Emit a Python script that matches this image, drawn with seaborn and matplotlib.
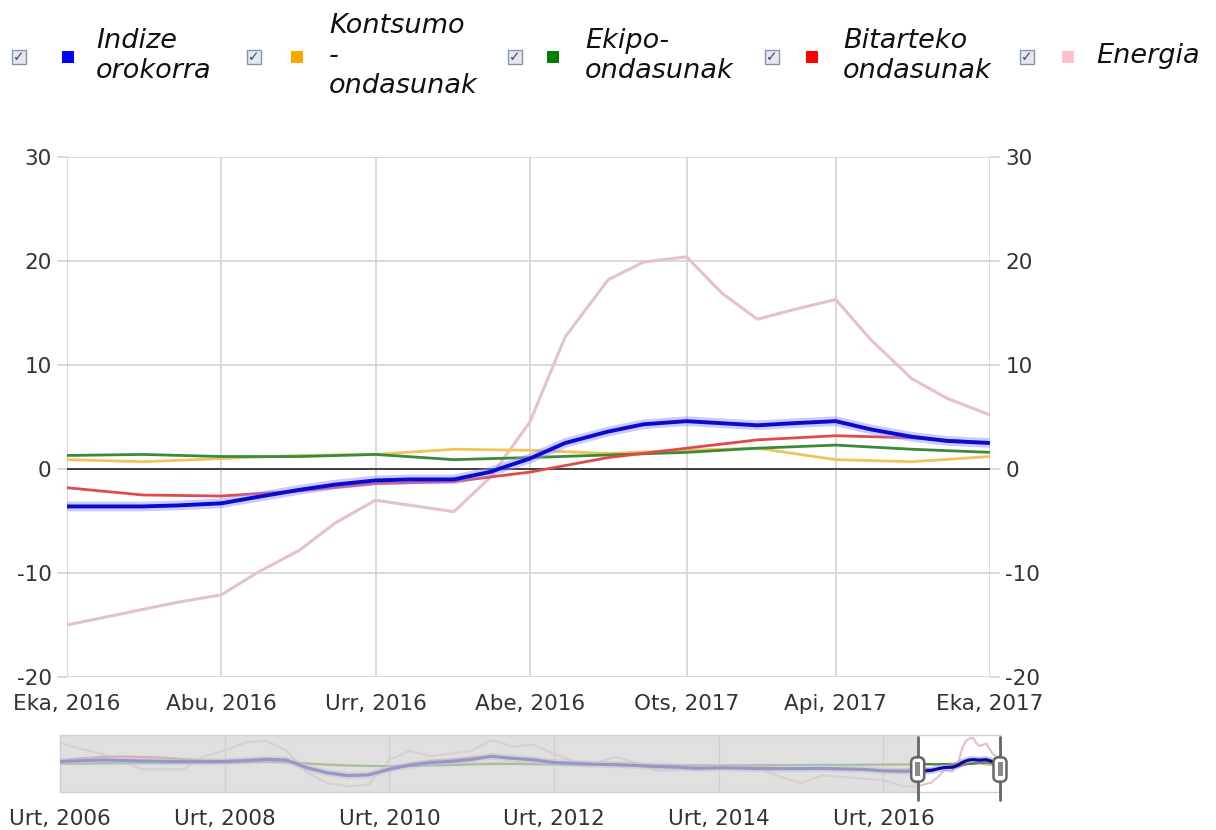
import numpy as np
import pandas as pd
import matplotlib
matplotlib.use("Agg")
import matplotlib.pyplot as plt
import matplotlib.dates as mdates
from matplotlib.patches import Rectangle, FancyBboxPatch
import seaborn as sns

# ---------------- data ----------------
months = pd.date_range("2016-06-01", "2017-06-01", freq="MS")
kontsumo = [0.9, 0.7, 1.0, 1.3, 1.4, 1.9, 1.8, 1.5, 1.8, 2.0, 0.9, 0.7, 1.2]
ekipo = [1.3, 1.4, 1.2, 1.2, 1.4, 0.9, 1.1, 1.35, 1.6, 2.0, 2.3, 1.9, 1.6]
bitarteko = [-1.8, -2.5, -2.6, -2.1, -1.4, -1.2, -0.3, 1.1, 2.0, 2.8, 3.2, 3.0, 2.5]

# twice-monthly readings (1st and 15th) for the two most curved series
semi = pd.date_range("2016-06-01", "2017-06-01", freq="SMS")
indize = [-3.6, -3.6, -3.6, -3.5, -3.3, -2.7, -2.0, -1.5, -1.1, -1.0, -1.0, -0.3, 1.0,
          2.5, 3.6, 4.3, 4.6, 4.4, 4.2, 4.4, 4.6, 3.8, 3.1, 2.7, 2.5]
energia = [-15.0, -14.3, -13.5, -12.8, -12.1, -10.0, -7.8, -5.2, -3.0, -3.5, -4.1, -0.9, 4.5,
           12.7, 18.2, 19.9, 20.4, 16.9, 14.4, 15.3, 16.3, 12.4, 8.7, 6.8, 5.2]

month_labels = ["Eka, 2016", "Abu, 2016", "Urr, 2016", "Abe, 2016",
                "Ots, 2017", "Api, 2017", "Eka, 2017"]
y_ticks = [-20, -10, 0, 10, 20, 30]

# navigator history (quarterly, Jan 2006 - Apr 2016)
hist_dates = pd.date_range("2006-01-01", "2016-04-01", freq="3MS")
hist_indize = [3.2, 3.8, 4.3, 4.0, 3.6, 3.4, 3.2, 3.1, 3.2, 3.8, 4.7, 4.3,
               -1.4, -5.0, -7.0, -6.5, -2.4, 0.5, 2.4, 3.2, 4.7, 7.0, 5.5, 4.5,
               2.5, 1.8, 1.2, 0.9, 0.3, -0.5, -0.9, -1.8, -1.4, -1.6, -2.0, -2.0,
               -2.0, -1.8, -2.2, -2.5, -3.6, -4.0]
hist_energia = [16.7, 12.5, 9.0, 3.0, -2.4, -2.4, -2.4, 7.0, 11.1, 17.0, 18.5, 11.0,
                -4.7, -12.6, -14.9, -13.8, 4.3, 11.1, 7.0, 9.0, 11.1, 18.9, 14.0, 15.5,
                8.8, 3.0, 2.0, 6.6, 2.0, -3.6, -3.0, -2.4, -1.4, -1.4, -1.8, -8.0,
                -12.6, -7.0, -8.0, -9.2, -10.4, -14.9]
hist_bitarteko = [3.5, 5.5, 6.5, 6.8, 6.5, 6.0, 5.0, 4.0, 3.8, 4.5, 5.5, 4.5,
                  -1.0, -5.5, -7.5, -6.5, -2.0, 1.5, 3.5, 4.5, 6.0, 7.0, 5.5, 4.0,
                  2.0, 1.5, 1.0, 0.8, 0.0, -0.8, -1.2, -1.5, -1.5, -1.2, -1.2, -1.5,
                  -1.8, -1.5, -2.0, -2.5, -3.0, -2.8]
hist_ekipo = [1.5, 1.6, 1.8, 1.9, 2.0, 2.0, 2.1, 2.2, 2.4, 2.6, 2.8, 2.6,
              1.8, 1.0, 0.4, 0.0, -0.2, -0.1, 0.2, 0.6, 1.0, 1.3, 1.4, 1.2,
              1.0, 0.8, 0.7, 0.6, 0.5, 0.4, 0.3, 0.3, 0.3, 0.4, 0.5, 0.6,
              0.7, 0.8, 0.8, 0.9, 1.0, 1.1]
hist_kontsumo = [2.0, 2.3, 2.5, 2.6, 2.5, 2.4, 2.6, 3.0, 3.5, 3.8, 3.6, 2.8,
                 1.5, 0.5, 0.0, -0.2, 0.0, 0.4, 0.8, 1.2, 1.8, 2.2, 2.4, 2.3,
                 2.0, 1.9, 1.8, 1.6, 1.2, 0.8, 0.6, 0.5, 0.4, 0.3, 0.3, 0.4,
                 0.5, 0.6, 0.6, 0.7, 0.8, 0.9]
nav_year_labels = ["Urt, 2006", "Urt, 2008", "Urt, 2010", "Urt, 2012",
                   "Urt, 2014", "Urt, 2016"]

series_names = ["Indize\norokorra", "Kontsumo\n-\nondasunak", "Ekipo-\nondasunak",
                "Bitarteko\nondasunak", "Energia"]
legend_colors = ["#0000ff", "#ffa500", "#008000", "#ff0000", "#ffc0cb"]
line_colors = {"indize": "#0a0ad0", "kontsumo": "#f0c45a", "ekipo": "#3a8a3a",
               "bitarteko": "#e24a4a", "energia": "#e6c2c8"}

# ---------------- figure ----------------
W, H = 1216, 830
sns.set_theme(style="white")
plt.rcParams["font.family"] = ["DejaVu Sans"]
plt.rcParams["axes.unicode_minus"] = False
fig = plt.figure(figsize=(W / 100, H / 100), dpi=100)


def fx(px):
    return px / W


def fy(py):
    return 1 - py / H


monthly_df = pd.DataFrame({"date": months, "kontsumo": kontsumo,
                           "ekipo": ekipo, "bitarteko": bitarteko})
semi_df = pd.DataFrame({"date": semi, "indize": indize, "energia": energia})

ax = fig.add_axes([fx(67), fy(677), fx(990) - fx(67), fy(157) - fy(677)])
grid_c = "#d3d3d3"
ax.set_xlim(months[0], months[-1])
ax.set_ylim(-20, 30)
ax.set_yticks(y_ticks)
ax.set_xticks(months[::2])
ax.set_xticklabels(month_labels)
ax.grid(True, color=grid_c, lw=1.2)
for s in ax.spines.values():
    s.set_visible(False)
ax.axhline(0, color="#333333", lw=1.3, zorder=2)

sns.lineplot(data=semi_df, x="date", y="energia", ax=ax, color=line_colors["energia"], lw=2.2, zorder=3)
sns.lineplot(data=monthly_df, x="date", y="kontsumo", ax=ax, color=line_colors["kontsumo"], lw=2.0, zorder=3)
sns.lineplot(data=monthly_df, x="date", y="ekipo", ax=ax, color=line_colors["ekipo"], lw=2.0, zorder=3)
sns.lineplot(data=monthly_df, x="date", y="bitarteko", ax=ax, color=line_colors["bitarteko"], lw=2.0, zorder=3)
sns.lineplot(data=semi_df, x="date", y="indize", ax=ax, color="#8c8cff", lw=7, alpha=0.45, zorder=4)
sns.lineplot(data=semi_df, x="date", y="indize", ax=ax, color=line_colors["indize"], lw=2.8, zorder=5)
ax.set_xlabel("")
ax.set_ylabel("")

ax.tick_params(axis="y", which="both", left=True, right=True, labelleft=True, labelright=True,
               length=7, width=1.2, color=grid_c, labelsize=15.5, labelcolor="#333333", pad=4)
ax.tick_params(axis="x", length=0, labelsize=15.5, labelcolor="#333333", pad=12)

# ---------------- navigator ----------------
nav = fig.add_axes([fx(60), fy(792), fx(1000) - fx(60), fy(735) - fy(792)])
nav.set_xlim(pd.Timestamp("2006-01-01"), pd.Timestamp("2017-06-01"))
nav.set_ylim(-19, 22.5)
hist_list = list(hist_dates)
sns.lineplot(x=hist_list + list(semi), y=hist_energia + energia, ax=nav,
             color=line_colors["energia"], lw=1.6, zorder=3)
sns.lineplot(x=hist_list + list(months), y=hist_kontsumo + kontsumo, ax=nav,
             color=line_colors["kontsumo"], lw=1.5, zorder=3)
sns.lineplot(x=hist_list + list(months), y=hist_bitarteko + bitarteko, ax=nav,
             color=line_colors["bitarteko"], lw=1.5, zorder=3)
sns.lineplot(x=hist_list + list(months), y=hist_ekipo + ekipo, ax=nav,
             color=line_colors["ekipo"], lw=1.5, zorder=3)
sns.lineplot(x=hist_list + list(semi), y=hist_indize + indize, ax=nav,
             color="#8c8cff", lw=5, alpha=0.5, zorder=4)
sns.lineplot(x=hist_list + list(semi), y=hist_indize + indize, ax=nav,
             color="#0a0a90", lw=2.2, zorder=5)
nav.axvspan(pd.Timestamp("2006-01-01"), months[0], color="#d4d4d4", alpha=0.7, lw=0, zorder=6)
nav.set_xlabel("")
nav.set_ylabel("")
nav.set_yticks([])
year_ticks = pd.date_range("2006-01-01", "2016-01-01", freq="2YS")
nav.set_xticks(year_ticks)
nav.set_xticklabels(nav_year_labels)
nav.grid(True, axis="x", color="#c4c4c4", lw=1.0, zorder=1)
nav.tick_params(axis="x", length=5, width=1.0, color="#c4c4c4", labelsize=15.5,
                labelcolor="#333333", pad=7)
for s in nav.spines.values():
    s.set_color("#cfcfcf")
    s.set_linewidth(1.0)

# range handles
fig.canvas.draw()
for d in [months[0], months[-1]]:
    xpix = nav.transData.transform((mdates.date2num(d), 0))[0]
    fig.add_artist(plt.Line2D([fx(xpix), fx(xpix)], [fy(737), fy(800)], color="#666666",
                              lw=2.0, transform=fig.transFigure, zorder=10))
    fig.add_artist(FancyBboxPatch((fx(xpix - 6.5), fy(782)), fx(13), fy(757) - fy(782),
                                  boxstyle="round,pad=0,rounding_size=0.006",
                                  transform=fig.transFigure, facecolor="white",
                                  edgecolor="#666666", lw=1.8, zorder=11))
    fig.add_artist(Rectangle((fx(xpix - 2.5), fy(776)), fx(5), fy(762) - fy(776),
                             transform=fig.transFigure, facecolor="#8a8a8a",
                             edgecolor="none", zorder=12))

# ---------------- legend ----------------
check_x = [19, 254, 515, 772, 1027]
square_x = [68, 297, 553, 812, 1068]
text_x = [96, 329, 585, 843, 1096]
leg_y = 57
for cx, sx, tx, name, col in zip(check_x, square_x, text_x, series_names, legend_colors):
    fig.add_artist(Rectangle((fx(cx - 7), fy(leg_y + 7)), fx(14), fy(leg_y - 7) - fy(leg_y + 7),
                             transform=fig.transFigure, facecolor="#e3e8f2",
                             edgecolor="#8894a8", lw=1.0))
    fig.text(fx(cx), fy(leg_y), "\u2713", ha="center", va="center", fontsize=10,
             color="#3b4a6b", fontweight="bold")
    fig.add_artist(Rectangle((fx(sx - 6), fy(leg_y + 6)), fx(12), fy(leg_y - 6) - fy(leg_y + 6),
                             transform=fig.transFigure, facecolor=col, edgecolor="none"))
    fig.text(fx(tx), fy(leg_y - 1), name, ha="left", va="center", fontsize=19.5,
             style="italic", color="#111111", linespacing=1.2)

fig.savefig("out.png", dpi=100, facecolor="white")
